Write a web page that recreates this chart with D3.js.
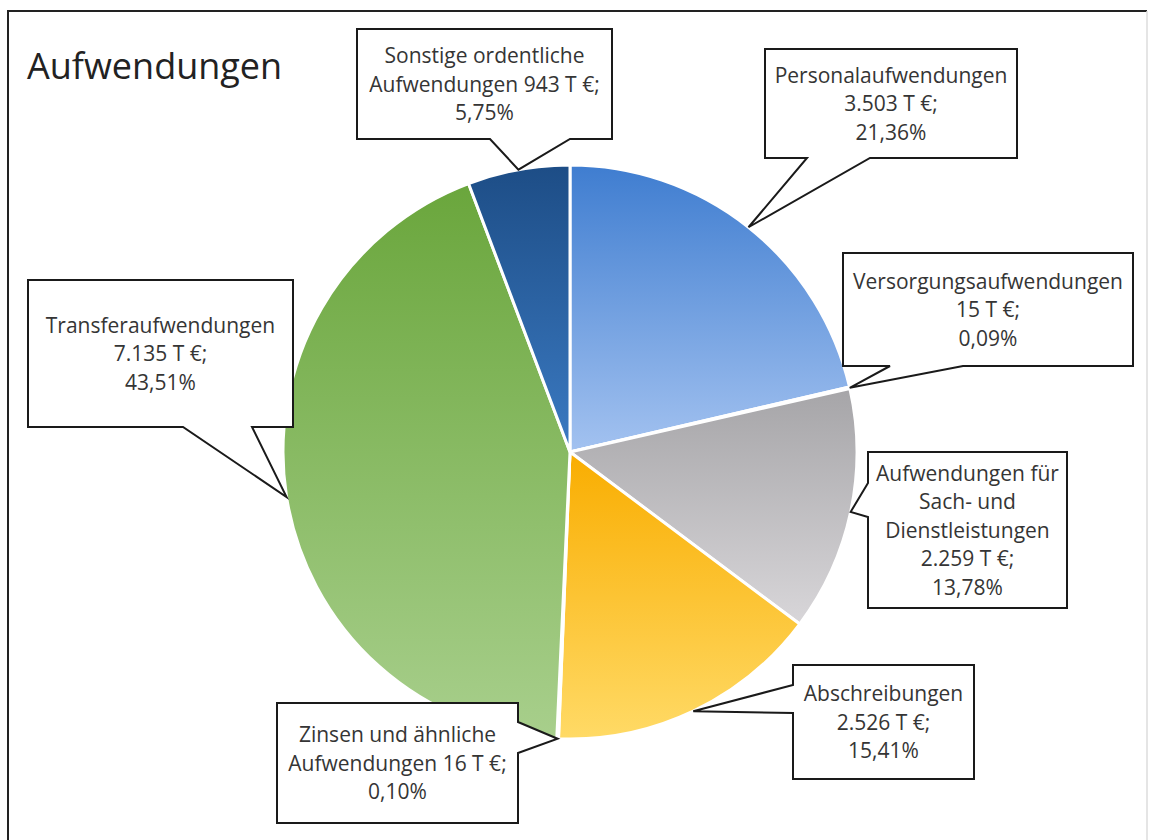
<!DOCTYPE html>
<html>
<head>
<meta charset="utf-8">
<script src="https://cdn.jsdelivr.net/npm/d3@7"></script>
<style>
  body { margin: 0; background: #fff; }
  text { font-family: 'Open Sans', sans-serif; fill: #353535; }
</style>
</head>
<body>
<div id="chart"></div>
<script>
const title = 'Aufwendungen'
const nameLines = [
  ['Personalaufwendungen'],
  ['Versorgungsaufwendungen'],
  ['Aufwendungen für', 'Sach- und', 'Dienstleistungen'],
  ['Abschreibungen'],
  ['Zinsen und ähnliche', 'Aufwendungen'],
  ['Transferaufwendungen'],
  ['Sonstige ordentliche', 'Aufwendungen']
]
// value in T €
const values = [3503, 15, 2259, 2526, 16, 7135, 943]
const valueOnNameLine = [false, false, false, false, true, false, true]
const sliceColors = [
  ['#3f7dd0', '#a3c2f0'],
  ['#3f7dd0', '#a3c2f0'],
  ['#a6a5a8', '#d8d6d9'],
  ['#f9ad00', '#ffda66'],
  ['#6aa63c', '#a8cf8c'],
  ['#6aa63c', '#a8cf8c'],
  ['#1d4d86', '#3b7ac2']
]

// callout boxes: rect + where the pointer leaves the box
const callouts = [
  { x: 765, y: 49, w: 252, h: 109, side: 'bottom', a: 42, b: 105 },
  { x: 843, y: 253, w: 290, h: 113, side: 'bottom', a: 47, b: 120 },
  { x: 868, y: 452, w: 199, h: 156, side: 'left', a: 31, b: 65 },
  { x: 793, y: 665, w: 181, h: 114, side: 'left', a: 20, b: 48 },
  { x: 277, y: 703, w: 241, h: 120, side: 'right', a: 19, b: 50 },
  { x: 28, y: 280, w: 265, h: 147, side: 'bottom', a: 155, b: 224 },
  { x: 357, y: 29, w: 255, h: 110, side: 'bottom', a: 133, b: 213 }
]

const width = 1151
const height = 840
const cx = 570
const cy = 452
const radius = 287
const lineHeight = 28.5

const de = d3.formatLocale({ decimal: ',', thousands: '.', grouping: [3], currency: ['', ' €'] })
const fmtValue = de.format(',')
const fmtPct = de.format('.2%')
const total = d3.sum(values)

const data = values.map((v, i) => ({ index: i, value: v, lines: nameLines[i] }))

const svg = d3.select('#chart').append('svg')
  .attr('width', width)
  .attr('height', height)

// frame
svg.append('path')
  .attr('d', `M8,840 V11 H1147`)
  .attr('fill', 'none')
  .attr('stroke', '#222')
  .attr('stroke-width', 2)
svg.append('line')
  .attr('x1', 1147).attr('y1', 11).attr('x2', 1147).attr('y2', 840)
  .attr('stroke', '#ddd')
  .attr('stroke-width', 1.5)

svg.append('text')
  .attr('x', 27)
  .attr('y', 79)
  .style('font-size', '36px')
  .style('fill', '#222')
  .text(title)

const defs = svg.append('defs')
sliceColors.forEach((c, i) => {
  const g = defs.append('linearGradient')
    .attr('id', `grad${i}`)
    .attr('x1', 0).attr('y1', 0).attr('x2', 0).attr('y2', 1)
  g.append('stop').attr('offset', '0%').attr('stop-color', c[0])
  g.append('stop').attr('offset', '100%').attr('stop-color', c[1])
})

const pie = d3.pie().sort(null).value(d => d.value)
const arcs = pie(data)
const arc = d3.arc().innerRadius(0).outerRadius(radius)
const edgeArc = d3.arc().innerRadius(radius).outerRadius(radius)

const pieG = svg.append('g').attr('transform', `translate(${cx},${cy})`)
pieG.selectAll('path')
  .data(arcs)
  .enter()
  .append('path')
  .attr('d', arc)
  .attr('fill', d => `url(#grad${d.index})`)
  .attr('stroke', '#fff')
  .attr('stroke-width', 3)
  .attr('stroke-linejoin', 'round')

const calloutPath = (c, tip) => {
  const [tx, ty] = tip
  const { x, y, w, h, a, b } = c
  if (c.side === 'bottom') {
    return `M${x},${y} H${x + w} V${y + h} H${x + b} L${tx},${ty} L${x + a},${y + h} H${x} Z`
  }
  if (c.side === 'left') {
    return `M${x},${y} H${x + w} V${y + h} H${x} V${y + b} L${tx},${ty} L${x},${y + a} Z`
  }
  return `M${x},${y} H${x + w} V${y + a} L${tx},${ty} L${x + w},${y + b} V${y + h} H${x} Z`
}

const labelLines = (d) => {
  const lines = d.data.lines.slice()
  const val = `${fmtValue(d.value)} T €;`
  if (valueOnNameLine[d.index]) {
    lines[lines.length - 1] += ` ${val}`
  } else {
    lines.push(val)
  }
  lines.push(fmtPct(d.value / total))
  return lines
}

const labels = svg.selectAll('.callout')
  .data(arcs)
  .enter()
  .append('g')
  .attr('class', 'callout')

labels.append('path')
  .attr('d', d => {
    const [px, py] = edgeArc.centroid(d)
    return calloutPath(callouts[d.index], [cx + px, cy + py])
  })
  .attr('fill', '#fff')
  .attr('stroke', '#1a1a1a')
  .attr('stroke-width', 2)
  .attr('stroke-linejoin', 'miter')

labels.each(function (d) {
  const c = callouts[d.index]
  const lines = labelLines(d)
  const midY = c.y + c.h / 2
  const firstY = midY - (lines.length - 1) * lineHeight / 2
  const t = d3.select(this).append('text')
    .attr('text-anchor', 'middle')
    .style('font-size', '21px')
  lines.forEach((line, i) => {
    t.append('tspan')
      .attr('x', c.x + c.w / 2)
      .attr('y', firstY + i * lineHeight)
      .attr('dy', '0.36em')
      .text(line)
  })
})
</script>
</body>
</html>
